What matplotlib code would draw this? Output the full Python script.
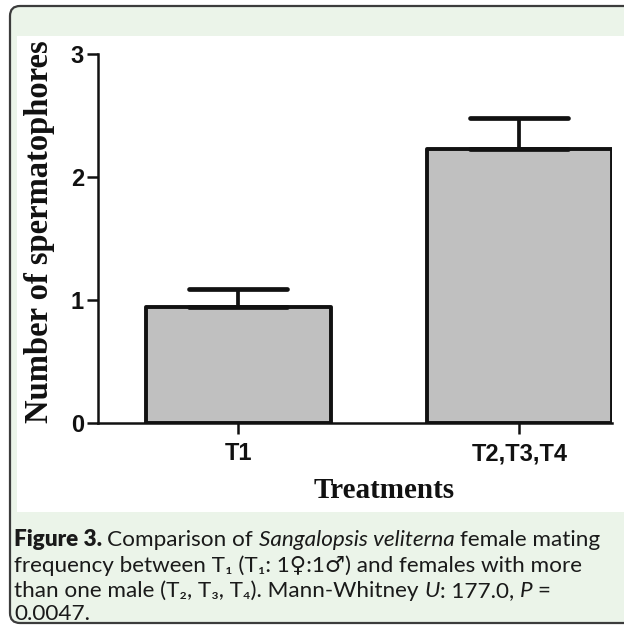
import matplotlib
matplotlib.use('Agg')
import matplotlib.pyplot as plt
from matplotlib.patches import FancyBboxPatch, Rectangle
from matplotlib.markers import MarkerStyle

# data
groups = ['T1', 'T2,T3,T4']
means = [0.94, 2.23]
sem = [0.15, 0.25]
yticks = [0, 1, 2, 3]

W, H = 624, 627
green = '#ebf4e9'

fig = plt.figure(figsize=(W / 100, H / 100), dpi=100, facecolor='white')

# rounded frame with pale green fill, white panel for the chart
frame = FancyBboxPatch((10 / W, 4 / H), 1.2, (623 - 6) / H,
                       boxstyle='round,pad=0,rounding_size=0.016',
                       transform=fig.transFigure, facecolor=green,
                       edgecolor='#3c3c3c', linewidth=1.6, zorder=-10)
fig.patches.append(frame)
panel = Rectangle((17 / W, (H - 512) / H), 1.0, (512 - 36) / H,
                  transform=fig.transFigure, facecolor='white',
                  edgecolor='none', zorder=-9)
fig.patches.append(panel)

ax = fig.add_axes([98 / W, (H - 423) / H, (612 - 98) / W, (423 - 54) / H])
ax.set_facecolor('white')

x = list(range(len(groups)))
bars = ax.bar(x, means, width=0.66, color='#c0c0c0', edgecolor='#111111',
              linewidth=2.8, zorder=2)
for b in bars:
    b.set_joinstyle('round')

eb = ax.errorbar(x, means, yerr=[[0] * len(sem), sem], fmt='none',
                 ecolor='#111111', elinewidth=2.7, capsize=35, capthick=3.4,
                 zorder=3)
for cap in eb[1]:
    cap.set_marker(MarkerStyle('_', capstyle='round'))

ax.set_xlim(-0.5, 1.33)
ax.set_ylim(0, 3)
ax.set_yticks(yticks)
ax.set_xticks(x)
ax.set_xticklabels(groups)

for s in ['top', 'right']:
    ax.spines[s].set_visible(False)
for s in ['left', 'bottom']:
    ax.spines[s].set_linewidth(1.8)
    ax.spines[s].set_color('#111111')

ax.tick_params(axis='both', direction='out', length=8, width=1.8,
               color='#111111')
ax.tick_params(axis='y', pad=2)
ax.tick_params(axis='x', pad=6)
for lab in ax.get_xticklabels() + ax.get_yticklabels():
    lab.set_fontfamily('Liberation Sans')
    lab.set_fontweight('bold')
    lab.set_fontsize(17)
    lab.set_color('#111111')

fig.text(40 / W, 1 - 232 / H, 'Number of spermatophores', rotation=90,
         ha='center', va='center', family='Liberation Serif',
         fontweight='bold', fontsize=23.5, color='#111111')
fig.text(384 / W, 1 - 490 / H, 'Treatments', ha='center', va='center',
         family='Liberation Serif', fontweight='bold', fontsize=21,
         color='#111111')

# caption, drawn piece by piece so bold / italic parts sit inline
fam = ['Lato', 'DejaVu Sans']
cap_lines = [
    [('Figure 3. ', 'normal', 'heavy'), ('Comparison of ', 'normal', 'normal'),
     ('Sangalopsis veliterna ', 'italic', 'normal'),
     ('female mating', 'normal', 'normal')],
    [('frequency between T\u2081 (T\u2081: 1\u2640:1\u2642) and females with more',
      'normal', 'normal')],
    [('than one male (T\u2082, T\u2083, T\u2084). Mann-Whitney ', 'normal', 'normal'),
     ('U', 'italic', 'normal'), (': 177.0, ', 'normal', 'normal'),
     ('P ', 'italic', 'normal'), ('=', 'normal', 'normal')],
    [('0.0047.', 'normal', 'normal')],
]
baselines = [546, 572, 597, 620]

renderer = fig.canvas.get_renderer()


def seg_width(s, size, style, weight):
    t = fig.text(0, 0, s + '|', family=fam, fontsize=size, style=style,
                 fontweight=weight)
    w1 = t.get_window_extent(renderer).width
    t.set_text('|')
    w2 = t.get_window_extent(renderer).width
    t.remove()
    return w1 - w2


# fit the first caption line to the width it has in the original
base = 14
w = sum(seg_width(s, base, st, wt) for s, st, wt in cap_lines[0])
size = base * 586 / w

for segs, yb in zip(cap_lines, baselines):
    xp = 14
    for s, st, wt in segs:
        fig.text(xp / W, 1 - yb / H, s, family=fam, fontsize=size, style=st,
                 fontweight=wt, ha='left', va='baseline', color='#1a1a1a')
        xp += seg_width(s, size, st, wt)

fig.savefig('out.png', dpi=100, facecolor='white')
